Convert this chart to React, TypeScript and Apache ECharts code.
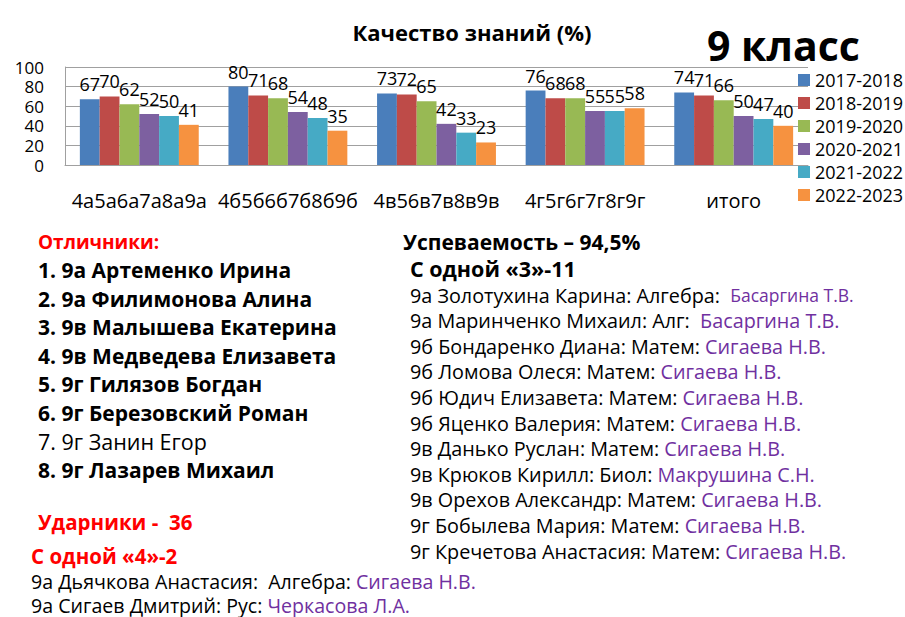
import React, { useEffect, useRef } from "react";
import * as echarts from "echarts";

const categories = ["4а5а6а7а8а9а", "4б5б6б7б8б9б", "4в56в7в8в9в", "4г5г6г7г8г9г", "итого"];
const years = ["2017-2018", "2018-2019", "2019-2020", "2020-2021", "2021-2022", "2022-2023"];
const v2017 = [67, 80, 73, 76, 74];
const v2018 = [70, 71, 72, 68, 71];
const v2019 = [62, 68, 65, 68, 66];
const v2020 = [52, 54, 42, 55, 50];
const v2021 = [50, 48, 33, 55, 47];
const v2022 = [41, 35, 23, 58, 40];
const yTicks = [0, 20, 40, 60, 80, 100];
const colors = ["#4A7EBB", "#BE4B48", "#98B954", "#7D60A0", "#46AAC5", "#F69240"];

const excellent = [
  "1. 9а Артеменко Ирина",
  "2. 9а Филимонова Алина",
  "3. 9в Малышева Екатерина",
  "4. 9в Медведева Елизавета",
  "5. 9г Гилязов Богдан",
  "6. 9г Березовский Роман",
  "7. 9г Занин Егор",
  "8. 9г Лазарев Михаил",
];
const excellentBold = [true, true, true, true, true, true, false, true];
const oneFour = [
  ["9а Дьячкова Анастасия:  Алгебра: ", "Сигаева Н.В."],
  ["9а Сигаев Дмитрий: Рус: ", "Черкасова Л.А."],
];
const oneThree = [
  ["9а Золотухина Карина: Алгебра:  ", "Басаргина Т.В."],
  ["9а Маринченко Михаил: Алг:  ", "Басаргина Т.В."],
  ["9б Бондаренко Диана: Матем: ", "Сигаева Н.В."],
  ["9б Ломова Олеся: Матем: ", "Сигаева Н.В."],
  ["9б Юдич Елизавета: Матем: ", "Сигаева Н.В."],
  ["9б Яценко Валерия: Матем: ", "Сигаева Н.В."],
  ["9в Данько Руслан: Матем: ", "Сигаева Н.В."],
  ["9в Крюков Кирилл: Биол: ", "Макрушина С.Н."],
  ["9в Орехов Александр: Матем: ", "Сигаева Н.В."],
  ["9г Бобылева Мария: Матем: ", "Сигаева Н.В."],
  ["9г Кречетова Анастасия: Матем: ", "Сигаева Н.В."],
];

const FF = "'Open Sans', sans-serif";
const PURPLE = "#7030A0";
const RED = "#FF0000";

export default function App() {
  const ref = useRef<HTMLDivElement>(null);
  useEffect(() => {
    if (!ref.current) return;
    const chart = echarts.init(ref.current, undefined, { renderer: "svg" });
    const seriesData = [v2017, v2018, v2019, v2020, v2021, v2022];

    const graphics: any[] = [];
    const txt = (text: string, x: number, y: number, size: number, bold: boolean, fill: string) => ({
      type: "text",
      x,
      y,
      style: {
        text,
        fontFamily: FF,
        fontSize: size,
        fontWeight: bold ? "bold" : "normal",
        lineHeight: size,
        fill,
        verticalAlign: "middle",
        textVerticalAlign: "middle",
      },
    });
    const rich = (a: string, b: string, x: number, y: number, size: number, sizeB: number) => ({
      type: "text",
      x,
      y,
      style: {
        text: `{a|${a}}{b|${b}}`,
        verticalAlign: "middle",
        textVerticalAlign: "middle",
        rich: {
          a: { fontFamily: FF, fontSize: size, lineHeight: size, fill: "#000000" },
          b: { fontFamily: FF, fontSize: sizeB, lineHeight: size, fill: PURPLE },
        },
      },
    });

    graphics.push(txt("9 класс", 707, 45, 41, true, "#000000"));
    graphics.push(txt("Отличники:", 38, 242, 19, true, RED));
    excellent.forEach((t, i) =>
      graphics.push(txt(t, 38, 270 + i * 28.5, excellentBold[i] ? 21 : 21.5, excellentBold[i], "#000000"))
    );
    graphics.push(txt("Ударники -  36", 38, 522, 20.5, true, RED));
    graphics.push(txt("С одной «4»-2", 31, 556, 20.5, true, RED));
    oneFour.forEach((p, i) => graphics.push(rich(p[0], p[1], 31, 581 + i * 24, 19.6, 19.6)));
    graphics.push(txt("Успеваемость – 94,5%", 403, 242, 21, true, "#000000"));
    graphics.push(txt("С одной «3»-11", 410, 268, 21.5, true, "#000000"));
    oneThree.forEach((p, i) =>
      graphics.push(rich(p[0], p[1], 410, 295 + i * 25.6, 19.8, i === 0 ? 17.5 : 19.8))
    );

    chart.setOption({
      animation: false,
      color: colors,
      title: {
        text: "Качество знаний (%)",
        left: 467,
        top: 16,
        textAlign: "center",
        textStyle: { fontFamily: FF, fontSize: 22, fontWeight: "bold", color: "#000000" },
      },
      legend: {
        orient: "vertical",
        left: 798,
        top: 71,
        padding: 0,
        itemWidth: 12,
        itemHeight: 12,
        itemGap: 5,
        icon: "rect",
        textStyle: { fontFamily: FF, fontSize: 18, lineHeight: 18, color: "#000000" },
        data: years,
      },
      grid: { left: 65, right: 97, top: 67, bottom: 452, containLabel: false },
      xAxis: {
        type: "category",
        data: categories,
        axisLine: { lineStyle: { color: "#A0A0A0" } },
        axisTick: { show: false },
        axisLabel: { fontFamily: FF, fontSize: 20, color: "#000000", margin: 25, interval: 0 },
      },
      yAxis: {
        type: "value",
        min: 0,
        max: 100,
        interval: 20,
        axisLine: { show: true, lineStyle: { color: "#A0A0A0" } },
        axisTick: { show: false },
        splitLine: { lineStyle: { color: "#A0A0A0" } },
        axisLabel: {
          fontFamily: FF,
          fontSize: 17,
          lineHeight: 16,
          color: "#000000",
          margin: 21,
          formatter: (v: number) => (yTicks.includes(v) ? String(v) : ""),
        },
      },
      series: years.map((y, i) => ({
        name: y,
        type: "bar",
        data: seriesData[i],
        barGap: "0%",
        barCategoryGap: "20%",
        label: {
          show: true,
          position: "top",
          distance: 6,
          fontFamily: FF,
          fontSize: 18,
          color: "#000000",
        },
      })),
      graphic: graphics,
    });
    return () => chart.dispose();
  }, []);
  return (
    <div
      ref={ref}
      style={{ position: "fixed", left: 0, top: 0, width: 905, height: 617, background: "#ffffff" }}
    />
  );
}
